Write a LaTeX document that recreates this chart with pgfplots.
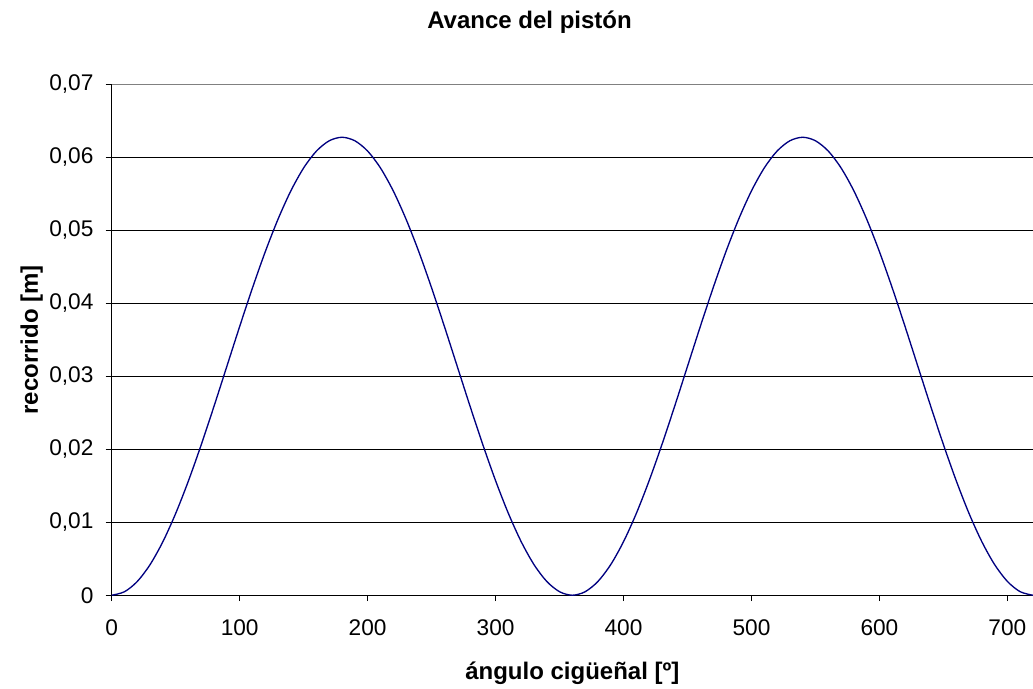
\documentclass[border=0pt]{standalone}
\usepackage{fontspec}
\setmainfont{Liberation Sans}
\usepackage{pgfplots}
\pgfplotsset{compat=1.18}
\definecolor{curve}{RGB}{0,0,128}
\begin{document}
\begin{tikzpicture}
\begin{axis}[
  scale only axis,
  width=691pt, height=383.25pt,
  xmin=0, xmax=720, ymin=0, ymax=0.07,
  axis lines=left,
  axis line style={-, black, line width=0.75pt},
  xtick={0,100,...,700},
  ytick={0,0.01,0.02,0.03,0.04,0.05,0.06,0.07},
  yticklabels={0,{0,01},{0,02},{0,03},{0,04},{0,05},{0,06},{0,07}},
  scaled y ticks=false,
  /pgf/number format/assume math mode=true,
  tick align=outside,
  major tick length=4.5pt,
  tick style={black, line width=0.75pt},
  ymajorgrids,
  major grid style={black, line width=0.75pt},
  ticklabel style={font=\fontsize{17}{20}\selectfont},
  xticklabel style={inner sep=0pt, anchor=north, yshift=-14pt},
  yticklabel style={inner sep=0pt, anchor=east, xshift=-9pt},
  every axis title/.style={font=\bfseries\fontsize{18}{21}\selectfont, inner sep=0pt, anchor=base,
    at={([yshift=41.5pt]axis description cs:0.4535,1)}},
  title={Avance del pistón},
  xlabel={\textbf{ángulo cigüeñal [º]}},
  xlabel style={font=\fontsize{18}{21}\selectfont, inner sep=0pt, anchor=base,
    at={([yshift=-63.5pt]axis description cs:0.5,0)}},
  ylabel={\textbf{recorrido [m]}},
  ylabel style={font=\fontsize{18}{21}\selectfont, inner sep=0pt, anchor=base, rotate=0,
    at={([xshift=-55.3pt]axis description cs:0,0.5)}},
  clip=false,
]
\addplot[curve, line width=1pt, smooth, tension=0.5] coordinates {
(0,0) (10,0.00048) (20,0.00189) (30,0.00420) (40,0.00734) (50,0.01121)
(60,0.01569) (70,0.02064) (80,0.02592) (90,0.03137) (100,0.03682)
(110,0.04210) (120,0.04706) (130,0.05153) (140,0.05540) (150,0.05854)
(160,0.06085) (170,0.06226) (180,0.06274) (190,0.06226) (200,0.06085)
(210,0.05854) (220,0.05540) (230,0.05153) (240,0.04706) (250,0.04210)
(260,0.03682) (270,0.03137) (280,0.02592) (290,0.02064) (300,0.01569)
(310,0.01121) (320,0.00734) (330,0.00420) (340,0.00189) (350,0.00048)
(360,0) (370,0.00048) (380,0.00189) (390,0.00420) (400,0.00734)
(410,0.01121) (420,0.01569) (430,0.02064) (440,0.02592) (450,0.03137)
(460,0.03682) (470,0.04210) (480,0.04706) (490,0.05153) (500,0.05540)
(510,0.05854) (520,0.06085) (530,0.06226) (540,0.06274) (550,0.06226)
(560,0.06085) (570,0.05854) (580,0.05540) (590,0.05153) (600,0.04706)
(610,0.04210) (620,0.03682) (630,0.03137) (640,0.02592) (650,0.02064)
(660,0.01569) (670,0.01121) (680,0.00734) (690,0.00420) (700,0.00189)
(710,0.00048) (720,0)
};
\draw[gray, line width=0.75pt] (rel axis cs:0,1) -- (rel axis cs:1,1);
\end{axis}
\pgfresetboundingbox
\path (-83.8pt,-70.3pt) rectangle (691pt,446.45pt);
\end{tikzpicture}
\end{document}
